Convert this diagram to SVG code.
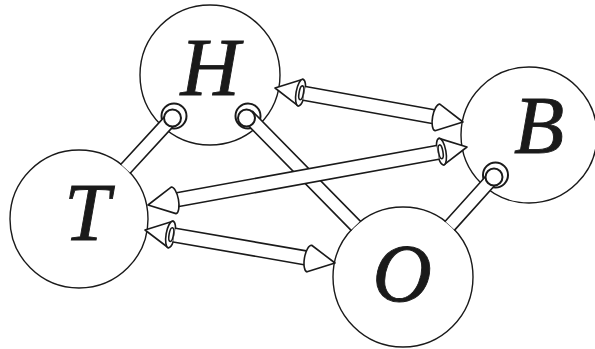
<svg xmlns="http://www.w3.org/2000/svg" width="595" height="349" viewBox="0 0 595 349">
<style>
.node circle{fill:#fff;stroke:#1a1a1a;stroke-width:1.4}
.lbl{font-family:"Liberation Serif","Times New Roman",serif;font-style:italic;font-size:82px;text-anchor:middle;fill:#1a1a1a;stroke:#1a1a1a;stroke-width:0.9}
.ln{fill:none;stroke:#1a1a1a;stroke-width:1.6;stroke-linecap:round}
.wf{fill:#fff;stroke:#1a1a1a;stroke-width:1.6;stroke-linejoin:round}
.cap{fill:#fff;stroke:#1a1a1a;stroke-width:2}
.body{fill:#fff;stroke:none}
</style>
<rect width="595" height="349" fill="#fff"/>
<g id="node-H" class="node"><circle cx="210" cy="75" r="70"/><text class="lbl" x="210" y="95">H</text></g>
<g id="node-T" class="node"><circle cx="79" cy="219" r="69"/><text class="lbl" x="87" y="240">T</text></g>
<g id="node-B" class="node"><circle cx="529" cy="135" r="68"/><text class="lbl" x="539" y="153">B</text></g>
<g id="node-O" class="node"><circle cx="403" cy="277" r="70"/><text class="lbl" x="402" y="301">O</text></g>
<g id="connectors">
  <g id="rod-T-H">
    <circle class="cap" cx="174" cy="116" r="12.5"/>
    <polygon class="body" points="178.8,120.4 130.4,173.0 120.9,164.2 169.2,111.6"/>
    <path class="ln" d="M178.8,120.4 L130.4,173.0 M169.2,111.6 L120.9,164.2"/>
    <circle class="cap" cx="172.5" cy="118" r="8.5"/>
  </g>
  <g id="rod-O-H">
    <circle class="cap" cx="248" cy="116" r="12.5"/>
    <polygon class="body" points="252.6,111.4 360.3,221.1 350.9,230.1 243.4,120.6"/>
    <path class="ln" d="M252.6,111.4 L360.3,221.1 M243.4,120.6 L350.9,230.1"/>
    <circle class="cap" cx="246.5" cy="118" r="8.5"/>
  </g>
  <g id="rod-O-B">
    <circle class="cap" cx="495.5" cy="175" r="12.5"/>
    <polygon class="body" points="500.3,179.3 454.8,229.9 445.2,221.2 490.7,170.7"/>
    <path class="ln" d="M500.3,179.3 L454.8,229.9 M490.7,170.7 L445.2,221.2"/>
    <circle class="cap" cx="494" cy="177" r="8.5"/>
  </g>
  <g id="arrow-H-B">
    <polygon class="wf" points="275,88 302.98,79.35 298.18,105.91"/>
    <ellipse class="wf" cx="300.58" cy="92.63" rx="4.5" ry="13.5" transform="rotate(10.25 300.58 92.63)"/>
    <polygon class="body" points="303.07,100.20 305.57,86.42 434.44,109.71 431.94,123.49"/>
    <path class="ln" d="M305.57,86.42 L434.44,109.71 M303.07,100.20 L431.94,123.49"/>
    <ellipse class="ln" cx="301.3" cy="92.8" rx="2.2" ry="7" transform="rotate(10.25 301.3 92.8)"/>
    <path class="wf" d="M463,122 L439.82,104.09 A5 13.5 10.25 0 0 435.02,130.65 Z"/>
  </g>
  <g id="arrow-T-B">
    <polygon class="wf" points="467,147 439.00,138.37 443.84,164.93"/>
    <ellipse class="wf" cx="441.42" cy="151.65" rx="4.5" ry="13.5" transform="rotate(-10.3 441.42 151.65)"/>
    <polygon class="body" points="436.43,145.44 438.93,159.22 179.06,206.47 176.56,192.69"/>
    <path class="ln" d="M436.43,145.44 L176.56,192.69 M438.93,159.22 L179.06,206.47"/>
    <ellipse class="ln" cx="440.7" cy="151.8" rx="2.2" ry="7" transform="rotate(-10.3 440.7 151.8)"/>
    <path class="wf" d="M148,205 L171.16,187.07 A5 13.5 -10.3 0 1 176.00,213.63 Z"/>
  </g>
  <g id="arrow-T-O">
    <polygon class="wf" points="145,230 172.93,221.15 168.31,247.75"/>
    <ellipse class="wf" cx="170.62" cy="234.45" rx="4.5" ry="13.5" transform="rotate(9.85 170.62 234.45)"/>
    <polygon class="body" points="173.16,242.00 175.56,228.20 306.34,250.91 303.94,264.71"/>
    <path class="ln" d="M175.56,228.20 L306.34,250.91 M173.16,242.00 L303.94,264.71"/>
    <ellipse class="ln" cx="171.3" cy="234.6" rx="2.2" ry="7" transform="rotate(9.85 171.3 234.6)"/>
    <path class="wf" d="M335,263 L311.69,245.25 A5 13.5 9.85 0 0 307.07,271.85 Z"/>
  </g>
</g>
</svg>
